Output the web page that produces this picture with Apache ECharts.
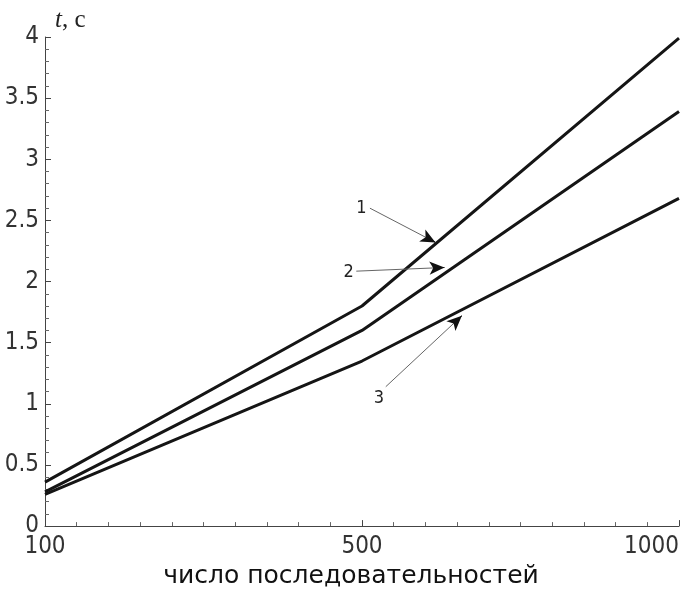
<!DOCTYPE html>
<html>
<head>
<meta charset="utf-8">
<script src="https://cdn.jsdelivr.net/npm/echarts@6/dist/echarts.min.js"></script>
<style>html,body{margin:0;padding:0;background:#fff;overflow:hidden;}#c{width:682px;height:594px;}</style>
</head>
<body>
<div id="c"></div>
<script>
// Data
var xLabels = [100, 500, 1000];
var curve1 = [0.36, 1.80, 3.99];
var curve2 = [0.28, 1.60, 3.39];
var curve3 = [0.26, 1.35, 2.68];
var yTicks = [0, 0.5, 1, 1.5, 2, 2.5, 3, 3.5, 4];

function pairs(vals){ return vals.map(function(v,i){ return [i, v]; }); }

// annotation arrows (in axis units: [category index, t])
var notes = [
  {text:'1', label:[0.998, 2.60], from:[1.025, 2.60], to:[1.232, 2.32]},
  {text:'2', label:[0.958, 2.075], from:[0.982, 2.085], to:[1.26, 2.115]},
  {text:'3', label:[1.053, 1.045], from:[1.075, 1.14], to:[1.315, 1.72]}
];

var lineColor = '#151515';
var series = [curve1, curve2, curve3].map(function(vals, k){
  var n = notes[k];
  var near = [n.to[0] - 0.08*(n.to[0]-n.from[0]), n.to[1] - 0.08*(n.to[1]-n.from[1])];
  return {
    type:'line', data: pairs(vals), symbol:'none', smooth:false,
    lineStyle:{color:lineColor, width:3}, z: 3,
    markLine:{
      silent:true, animation:false,
      symbol:['none','none'], symbolSize:[10,15],
      lineStyle:{color:'#666', width:1, type:'solid'},
      label:{show:false},
      data:[
        [{coord:n.from},{coord:n.to}],
        [{coord:near, symbol:'none', lineStyle:{color:'#111', width:1}},{coord:n.to, symbol:'arrow', symbolSize:[10,15], lineStyle:{color:'#111', width:1}}]
      ]
    },
    markPoint:{
      silent:true, animation:false,
      symbol:'circle', symbolSize:0,
      label:{show:true, position:'inside', formatter:n.text, color:'#222', fontSize:18, fontFamily:'DejaVu Sans Condensed, Liberation Sans, sans-serif'},
      data:[{coord:n.label}]
    }
  };
});

var chart = echarts.init(document.getElementById('c'), null, {renderer:'canvas', width:682, height:594});
chart.setOption({
  animation:false,
  backgroundColor:'#fff',
  grid:{left:45, top:37, width:636, height:501, containLabel:false},
  xAxis:{
    type:'value', min:0, max:xLabels.length-1, interval:1,
    name:'число последовательностей', nameLocation:'middle', nameGap:33,
    nameTextStyle:{fontSize:25, color:'#111', fontFamily:'DejaVu Sans, sans-serif', padding:[0,22,0,0]},
    axisLine:{show:true, lineStyle:{color:'#444', width:1}},
    axisTick:{show:true, inside:true, length:6, lineStyle:{color:'#444'}},
    minorTick:{show:true, splitNumber:10, length:4, lineStyle:{color:'#666'}},
    splitLine:{show:false},
    axisLabel:{
      fontSize:24, color:'#333', margin:9, fontFamily:'DejaVu Sans Condensed, Liberation Sans, sans-serif',
      alignMaxLabel:'right',
      formatter:function(v){ var i=Math.round(v); return (Math.abs(v-i)<1e-6 && xLabels[i]!==undefined) ? String(xLabels[i]) : ''; }
    }
  },
  yAxis:{
    type:'value', min:yTicks[0], max:yTicks[yTicks.length-1], interval:0.5,
    name:'{i|t}{r|, c}', nameLocation:'end', nameGap:4,
    nameTextStyle:{align:'left', padding:[0,0,0,10], rich:{
      i:{fontFamily:'Liberation Serif, serif', fontStyle:'italic', fontSize:25, color:'#222'},
      r:{fontFamily:'Liberation Serif, serif', fontSize:25, color:'#222'}
    }},
    axisLine:{show:true, lineStyle:{color:'#444', width:1}},
    axisTick:{show:true, inside:true, length:6, lineStyle:{color:'#444'}},
    minorTick:{show:true, splitNumber:5, length:4, lineStyle:{color:'#666'}},
    splitLine:{show:false},
    axisLabel:{fontSize:24, color:'#333', margin:6, fontFamily:'DejaVu Sans Condensed, Liberation Sans, sans-serif',
      formatter:function(v){ return String(+v.toFixed(1)); }}
  },
  series: series
});
</script>
</body>
</html>
